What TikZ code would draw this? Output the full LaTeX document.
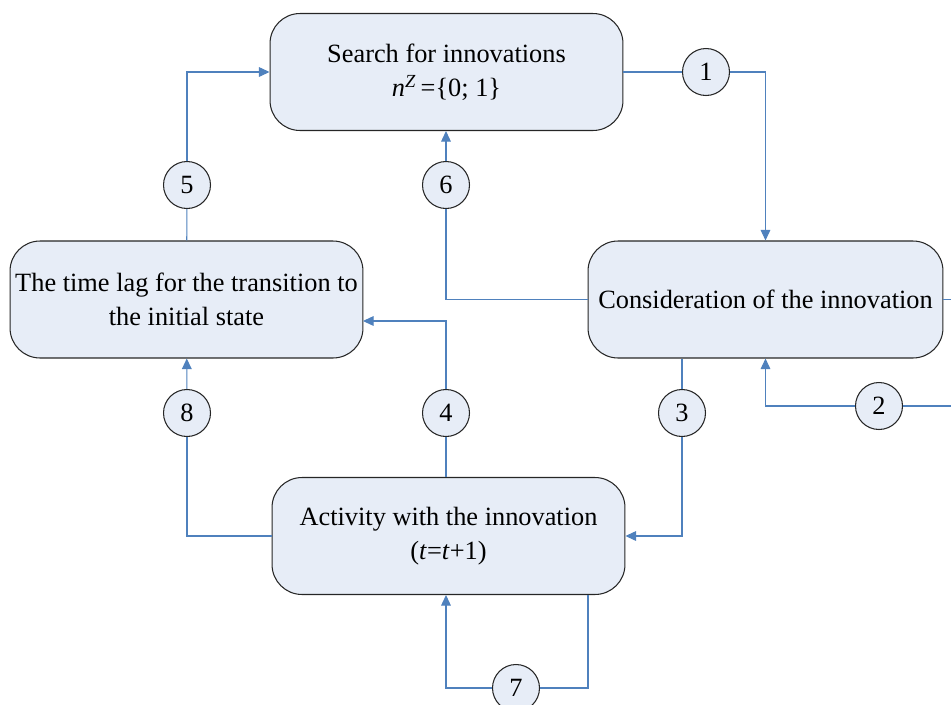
\documentclass[tikz,border=0pt]{standalone}
\usepackage{fontspec}
\setmainfont{Liberation Serif}
\usepackage{xcolor}
\usetikzlibrary{positioning,arrows.meta}
\definecolor{boxfill}{RGB}{231,237,247}
\definecolor{linkblue}{RGB}{79,129,189}

\begin{document}
\begin{tikzpicture}[x=0.02cm,y=-0.02cm,>={Triangle[length=6pt,width=5.5pt]},
		every node/.style={font=\fontsize{15}{19.3}\selectfont},
		block/.style={draw=black!85,fill=boxfill,rounded corners=0.6cm,minimum width=7.06cm,minimum height=2.34cm,align=center,inner sep=2pt,line width=0.6pt},
		num/.style={circle,draw=black!85,fill=boxfill,minimum size=0.94cm,inner sep=0pt,line width=0.6pt},
		link/.style={draw=linkblue,line width=0.6pt}]
		\clip (0,0) rectangle (951,704);
		\node[block] (search)   at (446.5,72)  {Search for innovations\\ \textit{n}\textsuperscript{\textit{Z}}\,=\{0; 1\}};
		\node[block,minimum width=7.1cm] (consid) at (765.5,299.5) {Consideration of the innovation};
		\node[block] (timelag)  at (186.5,299.5) {The time lag for the transition to\\the initial state};
		\node[block] (activity) at (448.5,536) {Activity with the innovation\\(\textit{t}=\textit{t}+1)};
	
		\node[num] (c1) at (706,72)  {1};
		\node[num] (c2) at (879,406) {2};
		\node[num] (c3) at (682,413) {3};
		\node[num] (c4) at (446,413) {4};
		\node[num] (c5) at (187,185) {5};
		\node[num] (c6) at (446,185) {6};
		\node[num] (c7) at (516,688) {7};
		\node[num] (c8) at (187,413) {8};
		\coordinate (lagin) at (363,321);
		\coordinate (act7) at (588,595);
	
		\draw[link] (search) -- (c1);
		\draw[link,->] (c1) -| (consid);
		\draw[link] (consid.east) -- ++(40,0) |- (c2);
		\draw[link,->] (c2) -| (consid.south);
		\draw[link] (consid.south -| c3) -- (c3);
		\draw[link,->] (c3) |- (activity.east);
		\draw[link] (activity.north -| c4) -- (c4);
		\draw[link,->] (c4) |- (lagin);
		\draw[link] (timelag) -- (c5);
		\draw[link,->] (c5) |- (search.west);
		\draw[link] (consid.west) -| (c6);
		\draw[link,->] (c6) -- (search.south -| c6);
		\draw[link] (act7) |- (c7);
		\draw[link,->] (c7) -| (activity.south -| c4);
		\draw[link] (activity.west) -| (c8);
		\draw[link,->] (c8) -- (timelag);
	\end{tikzpicture}
\end{document}
